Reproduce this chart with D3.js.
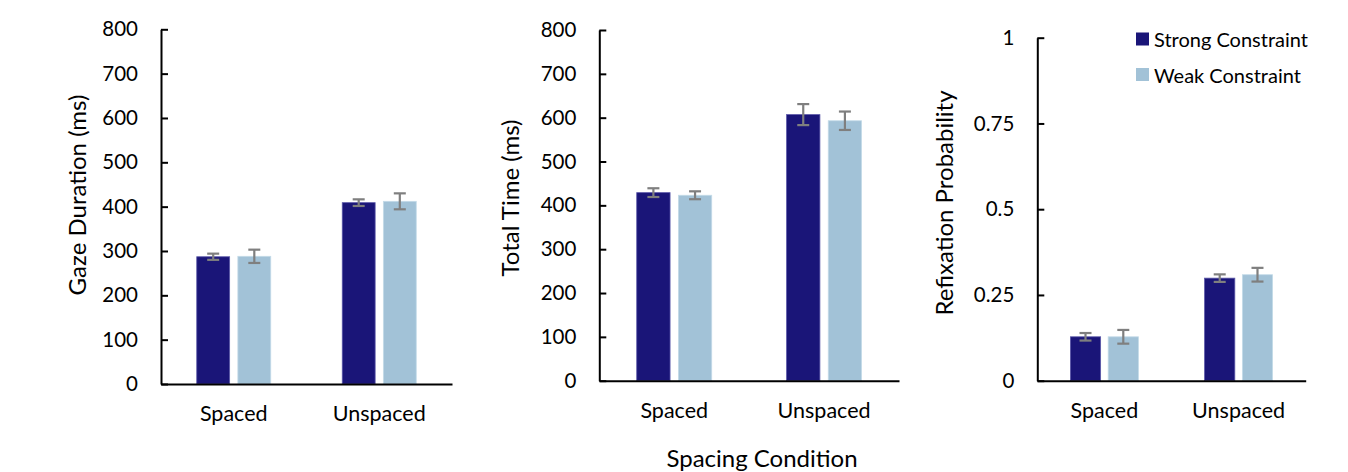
<!DOCTYPE html>
<html>
<head>
<meta charset="utf-8">
<script src="https://cdn.jsdelivr.net/npm/d3@7"></script>
<style>
  html, body { margin: 0; padding: 0; background: #ffffff; }
  svg { display: block; font-family: Lato, "Open Sans", sans-serif; }
</style>
</head>
<body>
<svg id="chart" width="1348" height="472"></svg>
<script>
// ---- data ----
const categories = ["Spaced", "Unspaced"];
const seriesNames = ["Strong Constraint", "Weak Constraint"];

const gazeStrong = [287, 409];
const gazeWeak = [288, 412];
const gazeStrongErr = [7, 7.5];
const gazeWeakErr = [15, 18];

const totalStrong = [429, 607];
const totalWeak = [423, 593];
const totalStrongErr = [10, 24];
const totalWeakErr = [9, 21];

const refixStrong = [0.128, 0.299];
const refixWeak = [0.128, 0.309];
const refixStrongErr = [0.011, 0.011];
const refixWeakErr = [0.02, 0.02];

const msTicks = [0, 100, 200, 300, 400, 500, 600, 700, 800];
const probTicks = [0, 0.25, 0.5, 0.75, 1];
const probTickLabels = ["0", "0.25", "0.5", "0.75", "1"];

const xTitle = "Spacing Condition";
const colors = ["#1a1578", "#a2c2d7"];
const strokeColors = ["#5a57a8", "#c4dbe8"];

// ---- layout ----
const panels = [
  { title: "Gaze Duration (ms)", strong: gazeStrong, weak: gazeWeak, sErr: gazeStrongErr, wErr: gazeWeakErr,
    ticks: msTicks, labels: msTicks.map(String), max: 800,
    x0: 161, x1: 452, y0: 384, yTop: 29.3, group: 74, titleX: 76, titleY: 195, catY: 421 },
  { title: "Total Time (ms)", strong: totalStrong, weak: totalWeak, sErr: totalStrongErr, wErr: totalWeakErr,
    ticks: msTicks, labels: msTicks.map(String), max: 800,
    x0: 599.3, x1: 899, y0: 380.7, yTop: 30, group: 75, titleX: 509, titleY: 198, catY: 418 },
  { title: "Refixation Probability", strong: refixStrong, weak: refixWeak, sErr: refixStrongErr, wErr: refixWeakErr,
    ticks: probTicks, labels: probTickLabels, max: 1,
    x0: 1037.3, x1: 1305.7, y0: 380.7, yTop: 37.7, group: 68, titleX: 943, titleY: 203, catY: 418 }
];

const svg = d3.select("#chart");
const tickFont = 20.5;
const catFont = 21.5;
const titleFont = 24;

panels.forEach((p) => {
  const g = svg.append("g");
  const x = d3.scaleBand().domain(categories).range([p.x0, p.x1]).padding(0);
  const bw = x.bandwidth();
  const xs = d3.scaleBand().domain(seriesNames)
    .range([(bw - p.group) / 2, (bw + p.group) / 2]).paddingInner(0.2);
  const y = d3.scaleLinear().domain([0, p.max]).range([p.y0, p.yTop]);

  const rows = [];
  categories.forEach((c, i) => {
    rows.push({ cat: c, s: seriesNames[0], v: p.strong[i], e: p.sErr[i], k: 0 });
    rows.push({ cat: c, s: seriesNames[1], v: p.weak[i], e: p.wErr[i], k: 1 });
  });

  // bars
  g.selectAll("rect.bar").data(rows).join("rect")
    .attr("class", "bar")
    .attr("x", d => x(d.cat) + xs(d.s))
    .attr("width", xs.bandwidth())
    .attr("y", d => y(d.v))
    .attr("height", d => y(0) - y(d.v))
    .attr("fill", d => colors[d.k])
    .attr("stroke", d => strokeColors[d.k])
    .attr("stroke-width", 0.8);

  // error bars
  const eb = g.selectAll("g.err").data(rows).join("g").attr("class", "err")
    .attr("stroke", "#7f7f7f").attr("stroke-width", 2.2);
  eb.append("line")
    .attr("x1", d => x(d.cat) + xs(d.s) + xs.bandwidth() / 2)
    .attr("x2", d => x(d.cat) + xs(d.s) + xs.bandwidth() / 2)
    .attr("y1", d => y(d.v - d.e)).attr("y2", d => y(d.v + d.e));
  [-1, 1].forEach(sgn => {
    eb.append("line")
      .attr("x1", d => x(d.cat) + xs(d.s) + xs.bandwidth() / 2 - 6)
      .attr("x2", d => x(d.cat) + xs(d.s) + xs.bandwidth() / 2 + 6)
      .attr("y1", d => y(d.v + sgn * d.e)).attr("y2", d => y(d.v + sgn * d.e));
  });

  // y axis
  const yAxis = d3.axisLeft(y).tickValues(p.ticks)
    .tickFormat((d, i) => p.labels[i]).tickSizeInner(-7).tickSizeOuter(0).tickPadding(23);
  const ya = g.append("g").attr("transform", `translate(${p.x0},0)`).call(yAxis);
  ya.select(".domain").attr("stroke", "#000").attr("stroke-width", 2);
  ya.selectAll(".tick line").attr("stroke", "#000").attr("stroke-width", 2);
  ya.selectAll(".tick text").attr("font-size", tickFont).attr("fill", "#000")
    .attr("font-family", "Lato, sans-serif");

  // x axis
  const xAxis = d3.axisBottom(x).tickSize(0).tickSizeOuter(0).tickPadding(0);
  const xa = g.append("g").attr("transform", `translate(0,${p.y0})`).call(xAxis);
  xa.select(".domain").attr("stroke", "#000").attr("stroke-width", 2);
  xa.selectAll(".tick text").attr("font-size", catFont).attr("fill", "#000")
    .attr("font-family", "Lato, sans-serif")
    .attr("dy", null).attr("y", p.catY - p.y0);

  // y title
  g.append("text")
    .attr("transform", `translate(${p.titleX},${p.titleY}) rotate(-90)`)
    .attr("text-anchor", "middle").attr("dominant-baseline", "central")
    .attr("font-size", titleFont).attr("fill", "#000")
    .text(p.title);
});

// x title
svg.append("text")
  .attr("x", 762).attr("y", 467)
  .attr("text-anchor", "middle")
  .attr("font-size", titleFont).attr("fill", "#000")
  .text(xTitle);

// legend
const legend = svg.append("g");
const legendY = [39, 74.5];
seriesNames.forEach((s, i) => {
  legend.append("rect").attr("x", 1136).attr("y", legendY[i] - 6.5)
    .attr("width", 13).attr("height", 13).attr("fill", colors[i]);
  legend.append("text").attr("x", 1154).attr("y", legendY[i])
    .attr("dominant-baseline", "central")
    .attr("font-size", 20).attr("fill", "#000").text(s);
});
</script>
</body>
</html>
